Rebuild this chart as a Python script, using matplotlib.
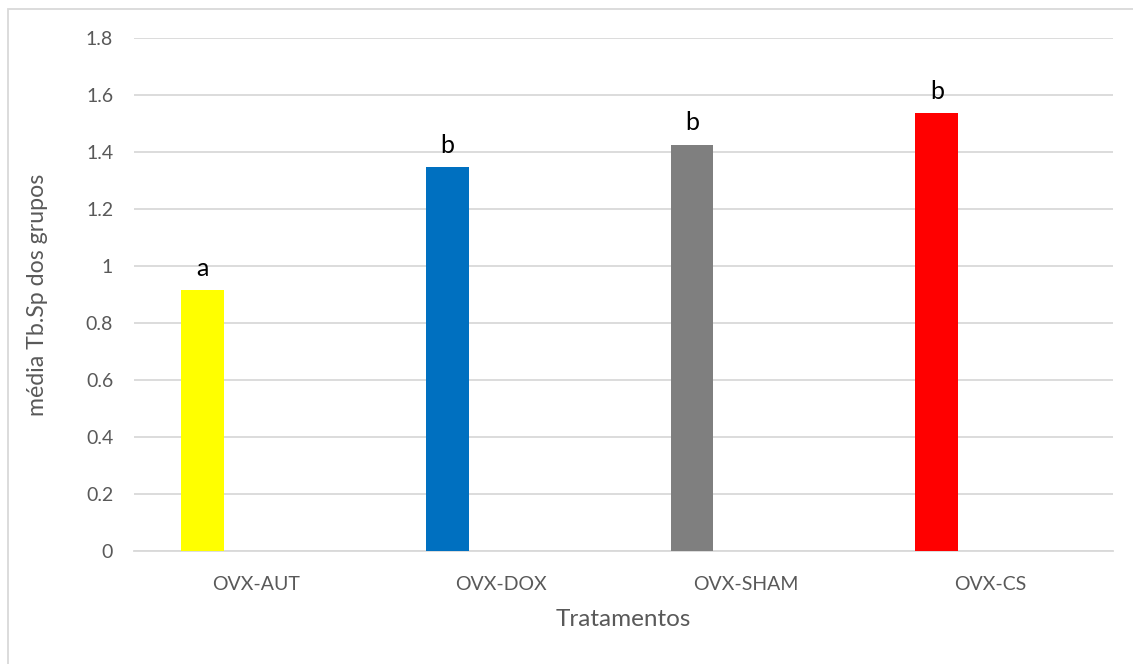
import matplotlib
matplotlib.use("Agg")
import matplotlib.pyplot as plt
from matplotlib.ticker import FuncFormatter, MultipleLocator
from matplotlib.patches import Rectangle

categories = ["OVX-AUT", "OVX-DOX", "OVX-SHAM", "OVX-CS"]
values = [0.917, 1.348, 1.426, 1.538]
letters = ["a", "b", "b", "b"]
colors = ["#FFFF00", "#0070C0", "#7F7F7F", "#FF0000"]

FONT = ["Lato", "DejaVu Sans"]
plt.rcParams["font.family"] = FONT

W, H = 1133, 664
fig = plt.figure(figsize=(W / 100, H / 100), dpi=100)
ax = fig.add_axes([134 / W, 1 - 551.3 / H, (1113 - 134) / W, (551.3 - 38.3) / H])

x = list(range(len(categories)))
bar_x = [i - 0.22 for i in x]
bars = ax.bar(bar_x, values, width=0.175, color=colors, zorder=3)

for b, lab in zip(bars, letters):
    ax.annotate(lab, (b.get_x() + b.get_width() / 2, b.get_height()),
                xytext=(0, 7.5), textcoords="offset points",
                ha="center", va="bottom", fontsize=18, color="black")

ax.set_xlim(-0.5, len(categories) - 0.5)
ax.set_ylim(0, 1.8)
ax.yaxis.set_major_locator(MultipleLocator(0.2))
ax.yaxis.set_major_formatter(FuncFormatter(lambda v, p: f"{v:.1f}".rstrip("0").rstrip(".") if v else "0"))
ax.set_xticks(x)
ax.set_xticklabels(categories)

ax.grid(axis="y", color="#D9D9D9", linewidth=1.3, zorder=0)
for s in ["top", "right", "left"]:
    ax.spines[s].set_visible(False)
ax.spines["bottom"].set_color("#D9D9D9")
ax.spines["bottom"].set_linewidth(1.3)
ax.tick_params(axis="both", length=0, colors="#595959", labelsize=14)
ax.tick_params(axis="x", pad=18)
ax.tick_params(axis="y", pad=15)

ax.set_xlabel("Tratamentos", fontsize=17.5, color="#595959", labelpad=11)
ax.set_ylabel("média Tb.Sp dos grupos", fontsize=16.7, color="#595959", labelpad=27)

fig.patches.append(Rectangle((7.5 / W, -0.1), 1.2, 1 - 8.5 / H + 0.1,
                             transform=fig.transFigure, fill=False,
                             edgecolor="#D9D9D9", linewidth=1.3))

fig.savefig("out.png", dpi=100)
